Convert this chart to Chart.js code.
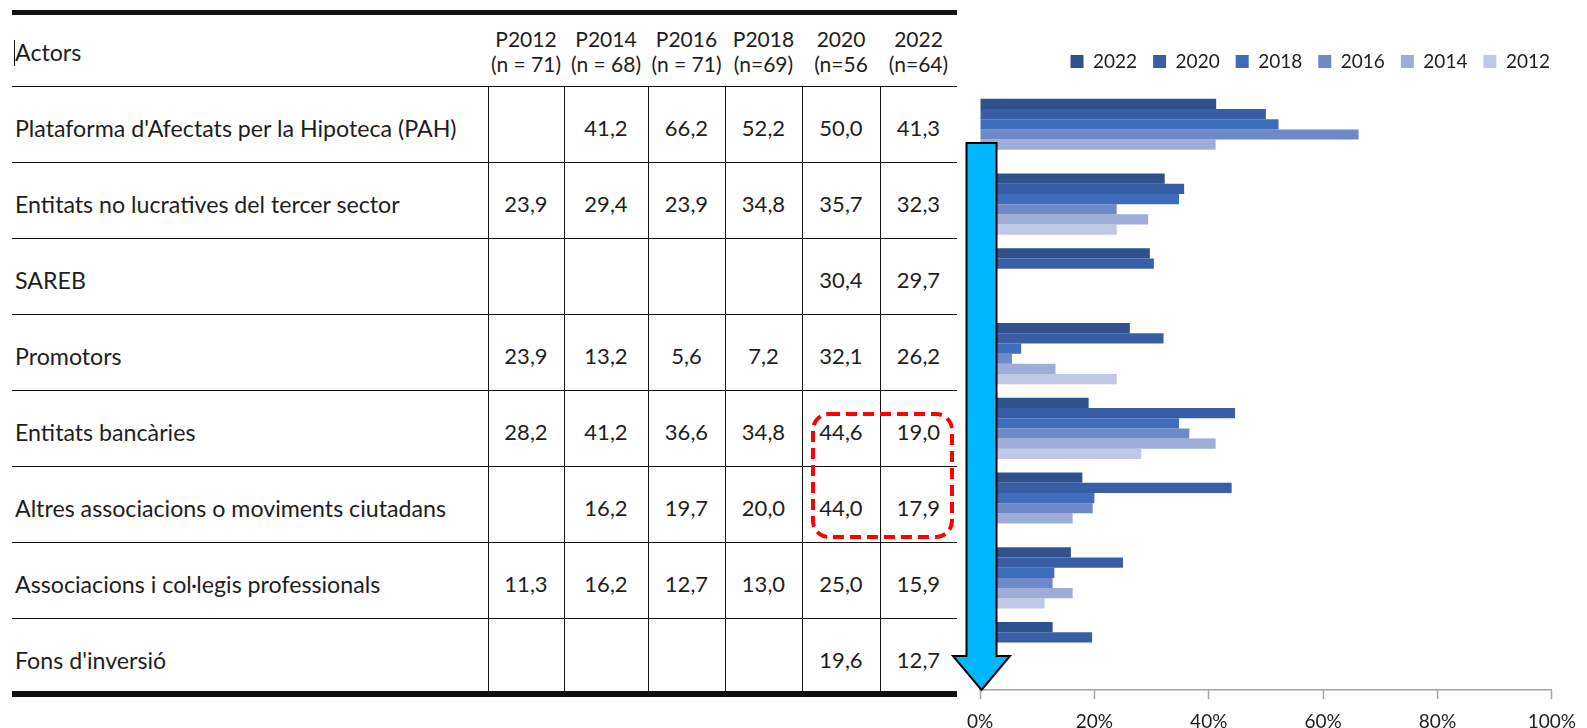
<!DOCTYPE html>
<html>
<head>
<meta charset="utf-8">
<script src="https://cdn.jsdelivr.net/npm/chart.js@4.4.0/dist/chart.umd.min.js"></script>
<style>
  html, body { margin: 0; padding: 0; background: #fff; }
  body { width: 1587px; height: 728px; position: relative; overflow: hidden; font-family: Lato, "Open Sans", sans-serif; color: #1e1e1e; }
  #chart { position: absolute; left: 0; top: 0; }
  #table { position: absolute; left: 0; top: 0; width: 960px; height: 728px; }
  .line { position: absolute; background: #111; }
  .cell { position: absolute; display: flex; align-items: center; white-space: nowrap; font-size: 22px; box-sizing: border-box; }
  .num { justify-content: center; padding-top: 7px; }
  .name { padding-left: 3px; padding-top: 7px; font-size: 23.2px; }
  .head { flex-direction: column; justify-content: center; line-height: 25px; font-size: 21px; }
  #marks { position: absolute; left: 0; top: 0; pointer-events: none; }
</style>
</head>
<body>
<div id="table"></div>
<canvas id="chart" width="1587" height="728"></canvas>
<svg id="marks" width="1587" height="728">
  <rect x="813" y="414" width="139" height="123" rx="16" ry="16" fill="none" stroke="#ff0000" stroke-width="4" stroke-dasharray="11 6"/>
  <polygon points="966.5,143 996.5,143 996.5,656 1010,656 981.5,690 953,656 966.5,656" fill="#00b6ff" stroke="#000" stroke-width="2" stroke-linejoin="miter"/>
</svg>
<script>
// Actors (table rows / chart categories)
const actors = [
    "Plataforma d'Afectats per la Hipoteca (PAH)",
    'Entitats no lucratives del tercer sector',
    'SAREB',
    'Promotors',
    'Entitats bancàries',
    'Altres associacions o moviments ciutadans',
    'Associacions i col·legis professionals',
    "Fons d'inversió"
];

// Percentages per survey year (null = not asked)
const y2012 = [null, 23.9, null, 23.9, 28.2, null, 11.3, null];
const y2014 = [41.2, 29.4, null, 13.2, 41.2, 16.2, 16.2, null];
const y2016 = [66.2, 23.9, null, 5.6, 36.6, 19.7, 12.7, null];
const y2018 = [52.2, 34.8, null, 7.2, 34.8, 20.0, 13.0, null];
const y2020 = [50.0, 35.7, 30.4, 32.1, 44.6, 44.0, 25.0, 19.6];
const y2022 = [41.3, 32.3, 29.7, 26.2, 19.0, 17.9, 15.9, 12.7];

// Table column headers
const headTop = ['P2012', 'P2014', 'P2016', 'P2018', '2020', '2022'];
const headBottom = ['(n = 71)', '(n = 68)', '(n = 71)', '(n=69)', '(n=56', '(n=64)'];
const tableSeries = [y2012, y2014, y2016, y2018, y2020, y2022];

// Chart series, top bar first
const legendYears = ['2022', '2020', '2018', '2016', '2014', '2012'];
const chartSeries = [y2022, y2020, y2018, y2016, y2014, y2012];
const barColors = ['#2f528f', '#3a5ea6', '#3e6dbb', '#6d89c8', '#9dadd8', '#bfc9e5'];

const axisTicks = [0, 20, 40, 60, 80, 100];

// ---- table ----
var table = document.getElementById('table');
var colEdges = [488, 564, 648, 725, 802, 880, 957];
var left = 12, right = 957, rowTop = 86, rowH = 76;

function add(cls, css, text) {
    var d = document.createElement('div');
    d.className = cls;
    Object.assign(d.style, css);
    if (text !== undefined) d.textContent = text;
    table.appendChild(d);
    return d;
}

var bottom = rowTop + rowH * actors.length;
add('line', { left: left + 'px', top: '10px', width: (right - left) + 'px', height: '5px' });
add('line', { left: left + 'px', top: (bottom - 3) + 'px', width: (right - left) + 'px', height: '6px' });
for (var r = 0; r < actors.length; r++) {
    add('line', { left: left + 'px', top: (rowTop + r * rowH - 0.5) + 'px', width: (right - left) + 'px', height: '1.5px' });
}
for (var c = 0; c < 6; c++) {
    add('line', { left: (colEdges[c] - 0.5) + 'px', top: rowTop + 'px', width: '1.5px', height: (bottom - rowTop) + 'px' });
}
// text cursor before "Actors"
add('line', { left: '14px', top: '40px', width: '1px', height: '26px' });

add('cell name', { left: left + 'px', top: '15px', height: '71px', paddingTop: '2px' }, 'Actors');
for (var c = 0; c < 6; c++) {
    var h = add('cell head', { left: colEdges[c] + 'px', top: '14px', width: (colEdges[c + 1] - colEdges[c]) + 'px', height: '76px', paddingBottom: '2px' });
    h.innerHTML = '<span>' + headTop[c] + '</span><span>' + headBottom[c] + '</span>';
}

actors.forEach(function (name, r) {
    var top = rowTop + r * rowH;
    add('cell name', { left: left + 'px', top: top + 'px', height: rowH + 'px' }, name);
    tableSeries.forEach(function (vals, c) {
        if (vals[r] === null) return;
        add('cell num', { left: colEdges[c] + 'px', top: top + 'px', width: (colEdges[c + 1] - colEdges[c]) + 'px', height: rowH + 'px' },
            vals[r].toFixed(1).replace('.', ','));
    });
});

// ---- chart ----
// fixed legend height so the plot starts where the table rows do,
// and nudge the legend row a bit to the right
var legendBox = {
    id: 'legendBox',
    beforeInit: function (chart) {
        var fit = chart.legend.fit;
        chart.legend.fit = function () {
            fit.bind(chart.legend)();
            this.height = 56;
        };
    },
    afterLayout: function (chart) {
        chart.legend.left += 8;
        chart.legend.right += 8;
    }
};

var font = { family: 'Lato', size: 19 };

var chart = new Chart(document.getElementById('chart'), {
    type: 'bar',
    data: {
        labels: actors,
        datasets: legendYears.map(function (year, i) {
            return {
                label: year,
                data: chartSeries[i],
                backgroundColor: barColors[i],
                categoryPercentage: 0.82,
                barPercentage: 1.0
            };
        })
    },
    options: {
        indexAxis: 'y',
        responsive: false,
        animation: false,
        layout: { padding: { left: 980, right: 29, top: 36, bottom: 0 } },
        plugins: {
            legend: {
                align: 'end',
                labels: { boxWidth: 13, boxHeight: 13, padding: 16, font: font, color: '#1e1e1e' }
            },
            tooltip: { enabled: false }
        },
        scales: {
            x: {
                min: axisTicks[0],
                max: axisTicks[axisTicks.length - 1],
                afterBuildTicks: function (scale) {
                    scale.ticks = axisTicks.map(function (v) { return { value: v }; });
                },
                ticks: {
                    callback: function (v) { return v + '%'; },
                    padding: 11,
                    font: font,
                    color: '#1e1e1e',
                    maxRotation: 0
                },
                grid: { drawOnChartArea: false, tickLength: 9, color: '#a3a3a3', tickWidth: 1.5 },
                border: { color: '#a3a3a3', width: 1.5 },
                afterFit: function (scale) { scale.height = 38; }
            },
            y: { display: false }
        }
    },
    plugins: [legendBox]
});
</script>
</body>
</html>
